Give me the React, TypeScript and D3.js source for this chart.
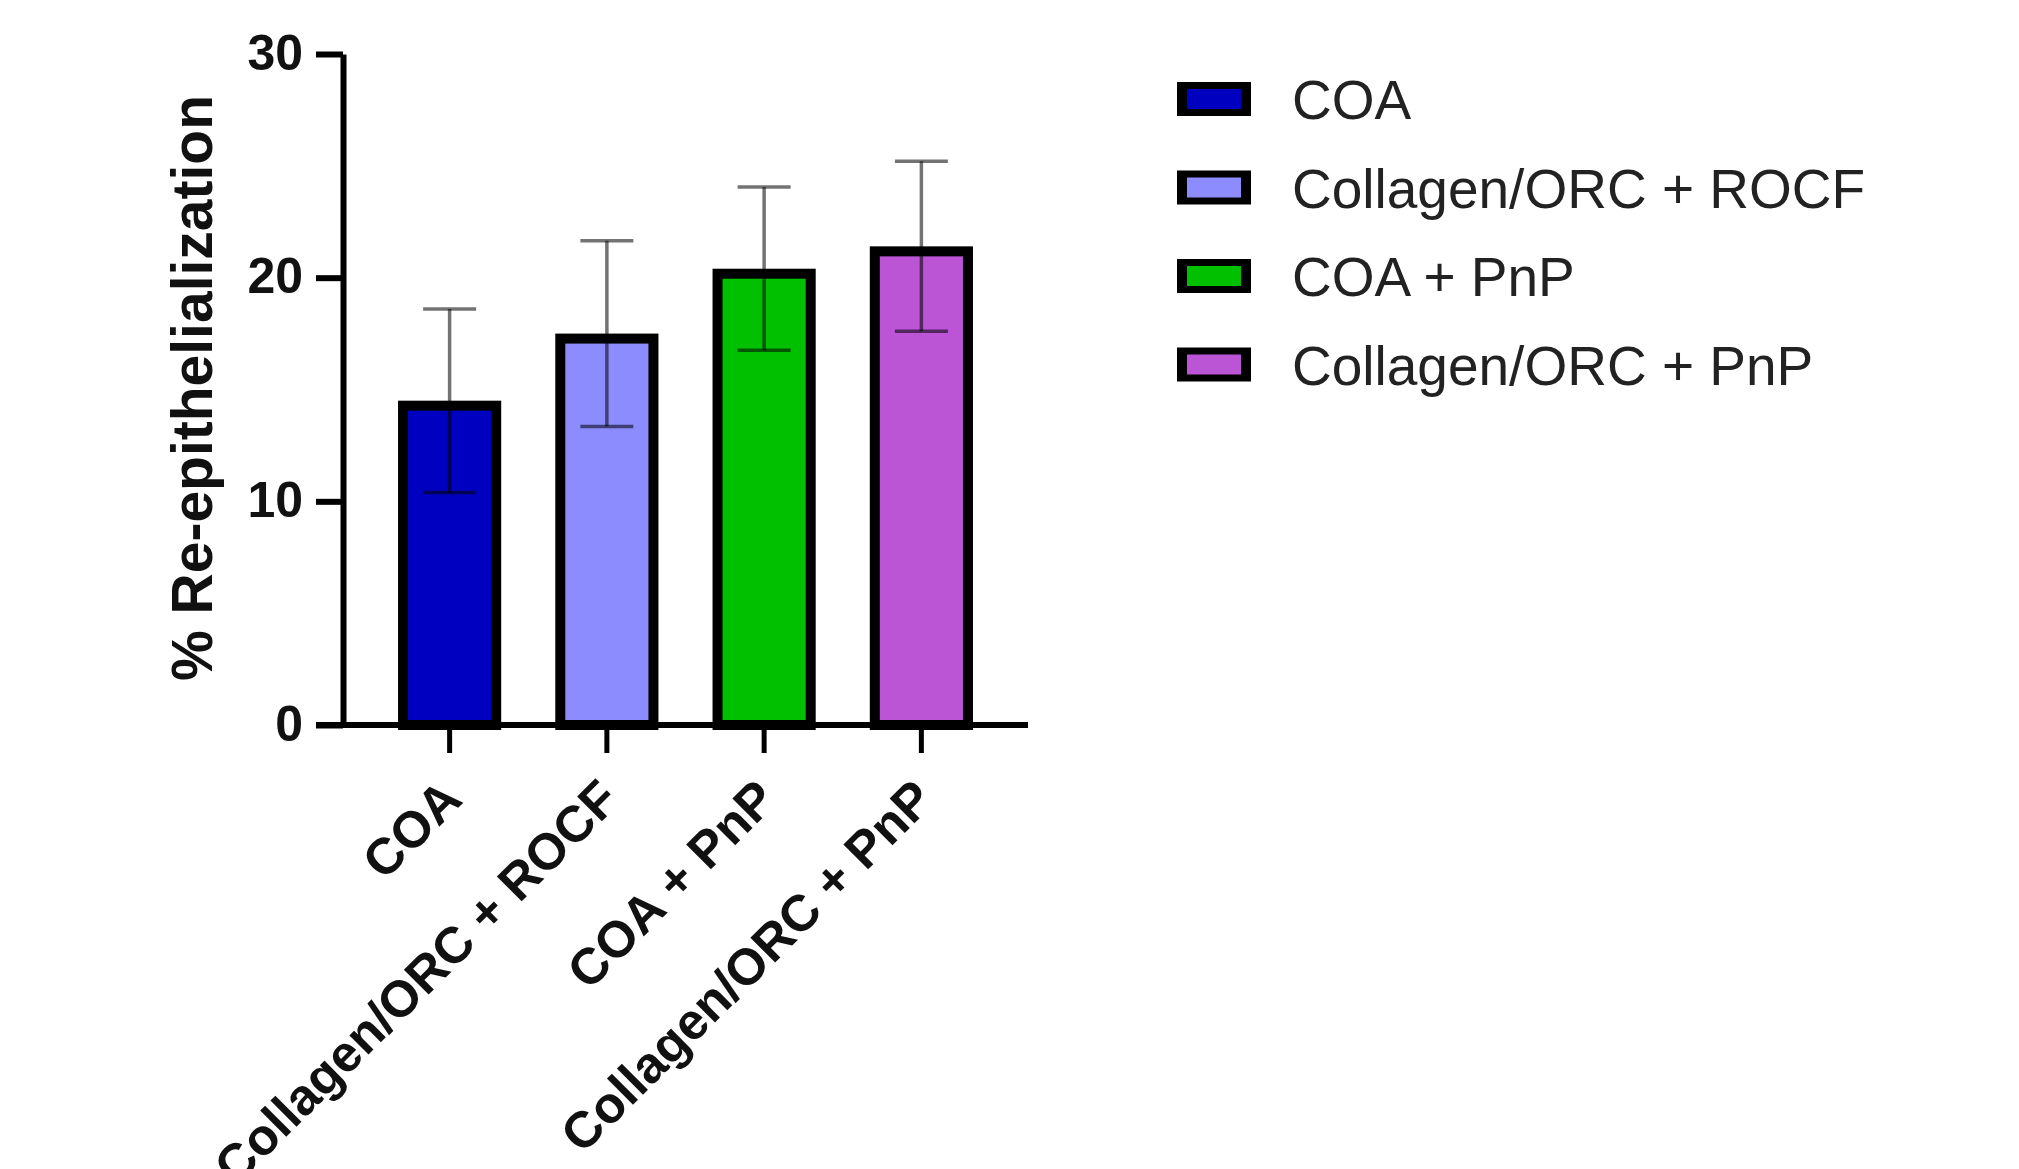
import React, { useEffect, useRef } from "react";
import * as d3 from "d3";

// Data
const categories = ["COA", "Collagen/ORC + ROCF", "COA + PnP", "Collagen/ORC + PnP"];
const means = [14.5, 17.5, 20.4, 21.4];
const sds = [4.1, 4.15, 3.65, 3.8];
const colors = ["#0000C0", "#8C8CFF", "#00C000", "#BB55D6"];
const yTicks = [0, 10, 20, 30];

const App = () => {
  const svgRef = useRef<SVGSVGElement>(null);

  useEffect(() => {
    const svg = d3.select(svgRef.current);
    svg.selectAll("*").remove();

    const font = "'Liberation Sans', Arial, sans-serif";
    const left = 343;
    const right = 1028;
    const top = 54;
    const bottom = 725;

    const x = d3
      .scaleBand<string>()
      .domain(categories)
      .range([left, right])
      .paddingInner(0.344)
      .paddingOuter(0.35);
    const y = d3.scaleLinear().domain([0, 30]).range([bottom, top]);

    // bars (stroke drawn inside the bar)
    const sw = 10;
    svg
      .selectAll(".bar")
      .data(categories)
      .enter()
      .append("rect")
      .attr("class", "bar")
      .attr("x", (d) => x(d)! + sw / 2)
      .attr("y", (d, i) => y(means[i]) + sw / 2)
      .attr("width", x.bandwidth() - sw)
      .attr("height", (d, i) => bottom - y(means[i]) - sw / 2)
      .attr("fill", (d, i) => colors[i])
      .attr("stroke", "#000")
      .attr("stroke-width", sw);

    // error bars
    const capW = 53;
    const err = svg.append("g").attr("stroke", "#000").attr("stroke-opacity", 0.55).attr("stroke-width", 3.5);
    categories.forEach((c, i) => {
      const cx = x(c)! + x.bandwidth() / 2;
      const hi = y(means[i] + sds[i]);
      const lo = y(means[i] - sds[i]);
      err.append("line").attr("x1", cx).attr("x2", cx).attr("y1", hi).attr("y2", lo);
      err.append("line").attr("x1", cx - capW / 2).attr("x2", cx + capW / 2).attr("y1", hi).attr("y2", hi);
      err.append("line").attr("x1", cx - capW / 2).attr("x2", cx + capW / 2).attr("y1", lo).attr("y2", lo);
    });

    // y axis
    const yAxis = d3
      .axisLeft(y)
      .tickValues(yTicks)
      .tickSize(27)
      .tickPadding(13)
      .tickSizeOuter(0);
    const gy = svg.append("g").attr("transform", `translate(${left},0)`).call(yAxis);
    gy.select(".domain").attr("stroke-width", 6).attr("stroke", "#000");
    gy.selectAll(".tick line").attr("stroke-width", 6).attr("stroke", "#000");
    gy.selectAll(".tick text")
      .attr("font-family", font)
      .attr("font-weight", "bold")
      .attr("font-size", 50)
      .attr("fill", "#111")
      .attr("dy", "0.3em");

    // x axis
    const xAxis = d3.axisBottom(x).tickSize(28).tickSizeOuter(0).tickFormat(() => "");
    const gx = svg.append("g").attr("transform", `translate(0,${bottom})`).call(xAxis);
    gx.select(".domain").remove();
    gx.append("line")
      .attr("x1", left - 27)
      .attr("x2", right)
      .attr("stroke", "#000")
      .attr("stroke-width", 6);
    gx.selectAll(".tick line").attr("stroke-width", 5).attr("stroke", "#000");

    // rotated category labels
    svg
      .append("g")
      .selectAll("text")
      .data(categories)
      .enter()
      .append("text")
      .attr("transform", (d) => `translate(${x(d)! + x.bandwidth() / 2 + 2},${bottom + 64}) rotate(-45)`)
      .attr("text-anchor", "end")
      .attr("dy", "0.35em")
      .attr("font-family", font)
      .attr("font-weight", "bold")
      .attr("font-size", 51)
      .attr("fill", "#111")
      .text((d) => d);

    // y title
    svg
      .append("text")
      .attr("transform", `translate(212,388) rotate(-90)`)
      .attr("text-anchor", "middle")
      .attr("font-family", font)
      .attr("font-weight", "bold")
      .attr("font-size", 57)
      .attr("fill", "#111")
      .text("% Re-epithelialization");

    // legend
    const legend = svg
      .append("g")
      .selectAll("g")
      .data(categories)
      .enter()
      .append("g")
      .attr("transform", (d, i) => `translate(1177,${99 + i * 88.5})`);
    legend
      .append("rect")
      .attr("x", 0)
      .attr("y", -17)
      .attr("width", 74)
      .attr("height", 34)
      .attr("fill", "#000");
    legend
      .append("rect")
      .attr("x", 10)
      .attr("y", -10)
      .attr("width", 54)
      .attr("height", 20)
      .attr("fill", (d, i) => colors[i]);
    legend
      .append("text")
      .attr("x", 115)
      .attr("y", 20)
      .attr("font-family", font)
      .attr("font-size", 55)
      .attr("fill", "#222")
      .text((d) => d);
  }, []);

  return (
    <svg
      ref={svgRef}
      width={2019}
      height={1169}
      style={{ position: "absolute", left: 0, top: 0, background: "#fff" }}
    ></svg>
  );
};

export default App;
